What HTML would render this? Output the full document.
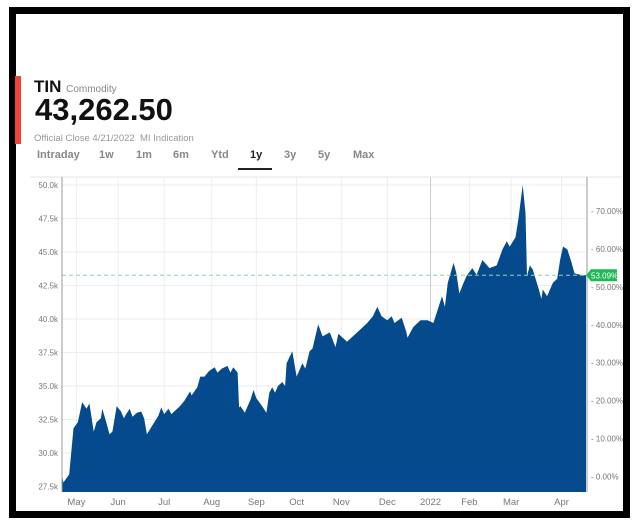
<!DOCTYPE html>
<html><head><meta charset="utf-8"><style>
body{margin:0;background:#fff;width:641px;height:526px;overflow:hidden;font-family:"Liberation Sans",sans-serif;}
#frame{position:absolute;left:9px;top:7px;width:607px;height:497px;border:7px solid #000;background:#fff;}
.abs{position:absolute;}
</style></head><body>
<div id="frame"></div>
<div class="abs" style="left:15px;top:76px;width:6px;height:68px;background:#f0443a"></div>
<div class="abs" style="left:34px;top:77px;font-size:17px;font-weight:bold;color:#111">TIN <span style="font-size:10px;font-weight:normal;color:#888">Commodity</span></div>
<div class="abs" style="left:35px;top:92px;font-size:31px;font-weight:bold;color:#111">43,262.50</div>
<div class="abs" style="left:34px;top:133px;font-size:9.5px;color:#999">Official Close 4/21/2022 &nbsp;MI Indication</div>
<div class="abs" style="left:0;top:149px;font-size:11px;color:#888;font-weight:bold">
<span class="abs" style="left:37px">Intraday</span>
<span class="abs" style="left:99px">1w</span>
<span class="abs" style="left:136px">1m</span>
<span class="abs" style="left:173px">6m</span>
<span class="abs" style="left:211px">Ytd</span>
<span class="abs" style="left:250px;color:#222">1y</span>
<span class="abs" style="left:284px">3y</span>
<span class="abs" style="left:318px">5y</span>
<span class="abs" style="left:353px">Max</span>
</div>
<div class="abs" style="left:238px;top:168px;width:34px;height:2px;background:#222"></div>
<svg id="chart" class="abs" style="left:0;top:0" width="641" height="526"></svg>
<script>
const days=[0,1,5,8,11,14,17,19,22,24,27,28,31,33,35,38,41,43,44,47,49,52,55,57,59,63,67,69,71,74,76,82,85,89,90,94,96,99,102,106,108,111,115,117,119,122,123,124,127,131,133,135,139,142,144,146,148,150,153,155,156,160,163,167,169,172,174,178,181,186,190,192,198,202,207,212,216,219,222,226,229,231,236,239,240,244,249,254,258,261,264,266,268,272,274,276,279,281,285,288,292,297,302,306,309,311,315,317,320,322,323,325,327,331,333,334,337,341,344,346,348,351,354,356,360,364];
const prices=[28.36,27.8,28.4,31.85,32.3,33.8,33.3,33.7,31.6,32.3,32.6,33.3,32.2,31.4,31.6,33.5,33.1,32.6,32.8,33.3,32.7,33.0,33.1,32.6,31.4,32.1,32.8,33.4,32.9,33.3,32.9,33.5,33.9,34.6,34.3,34.9,35.7,35.7,36.1,36.4,36.0,36.3,36.5,36.0,36.4,36.0,33.4,33.5,33.0,34.0,34.7,34.1,33.5,33.0,34.5,34.9,34.5,35.0,35.3,35.0,36.7,37.6,35.7,36.7,36.3,37.6,37.8,39.6,38.7,39.0,37.9,38.9,38.3,38.7,39.2,39.7,40.2,40.9,40.2,39.9,40.2,39.7,40.1,39.1,38.6,39.4,39.9,39.9,39.7,40.7,41.7,40.9,42.7,44.2,43.4,41.9,42.7,43.2,43.8,43.3,44.4,43.8,44.0,45.2,45.8,45.4,46.1,47.4,50.0,47.9,43.2,44.0,43.7,42.3,41.5,42.2,41.7,42.7,43.0,44.4,45.4,45.2,44.2,43.4,43.3,43.2625];
const priceTicks=[27.5,30,32.5,35,37.5,40,42.5,45,47.5,50];
const pctTicks=[0,10,20,30,40,50,60,70];
const monthLabels=["May","Jun","Jul","Aug","Sep","Oct","Nov","Dec","2022","Feb","Mar","Apr"];
const monthDays=[10,39,71,104,135,163,194,226,256,283,312,347];
const lastPct=53.09;
const lastPrice=43.2625;

const X0=62,X1=586,Y50=185,PXPER=33.5/2.5,YB=492;
const x=d=>X0+(d-0)*(X1-X0)/364;
const y=v=>Y50+(50-v)*PXPER;
const basePrice=lastPrice/(1+lastPct/100);
const yPct=p=>y(basePrice*(1+p/100));
const svg=document.getElementById('chart');
const NS='http://www.w3.org/2000/svg';
function mk(t,a){const e=document.createElementNS(NS,t);for(const k in a)e.setAttribute(k,a[k]);svg.appendChild(e);return e;}
let e;
e=mk('line',{x1:30,x2:623,y1:177,y2:177,stroke:'#e6e6e6'});


priceTicks.forEach(v=>{
 e=mk('line',{x1:X0,x2:X1,y1:y(v),y2:y(v),stroke:'#eeeeee'});
 
 
 e=mk('text',{x:X0-4,y:y(v)+3,'text-anchor':'end','font-size':'8','fill':'#777'});
 e.textContent=v.toFixed(1)+'k';
 
 
});
monthDays.forEach((d,i)=>{
 e=mk('line',{x1:x(d),x2:x(d),y1:177,y2:YB,stroke:i==8?'#cccccc':'#eeeeee'});
 
 
 e=mk('text',{x:x(d),y:505,'text-anchor':'middle','font-size':'9.5','fill':'#777'});
 e.textContent=monthLabels[i];
 
 
});
let dpath='M'+x(days[0])+','+YB;
days.forEach((d,i)=>{dpath+=' L'+x(d).toFixed(1)+','+y(prices[i]).toFixed(1);});
dpath+=' L'+x(days[days.length-1])+','+YB+' Z';
e=mk('path',{d:dpath,fill:'#054a8c'});


e=mk('line',{x1:X0,x2:X1,y1:y(lastPrice),y2:y(lastPrice),stroke:'#8fd8b0','stroke-dasharray':'4,3'});


e=mk('line',{x1:X0,x2:X0,y1:177,y2:YB,stroke:'#999'});


e=mk('line',{x1:X1+1,x2:X1+1,y1:177,y2:YB,stroke:'#999'});


pctTicks.forEach(p=>{
 e=mk('text',{x:X1+5,y:yPct(p)+3,'font-size':'8','fill':'#777'});
 e.textContent='- '+p.toFixed(2)+'%';
 
 
});
const ly=y(lastPrice);
e=mk('path',{d:`M${X1} ${ly} L${X1+5} ${ly-6} H${X1+31} V${ly+6} H${X1+5} Z`,fill:'#1db954'});


e=mk('text',{x:X1+5,y:ly+3,'font-size':'8','fill':'#fff'});
e.textContent=lastPct.toFixed(2)+'%';


</script>
</body></html>
